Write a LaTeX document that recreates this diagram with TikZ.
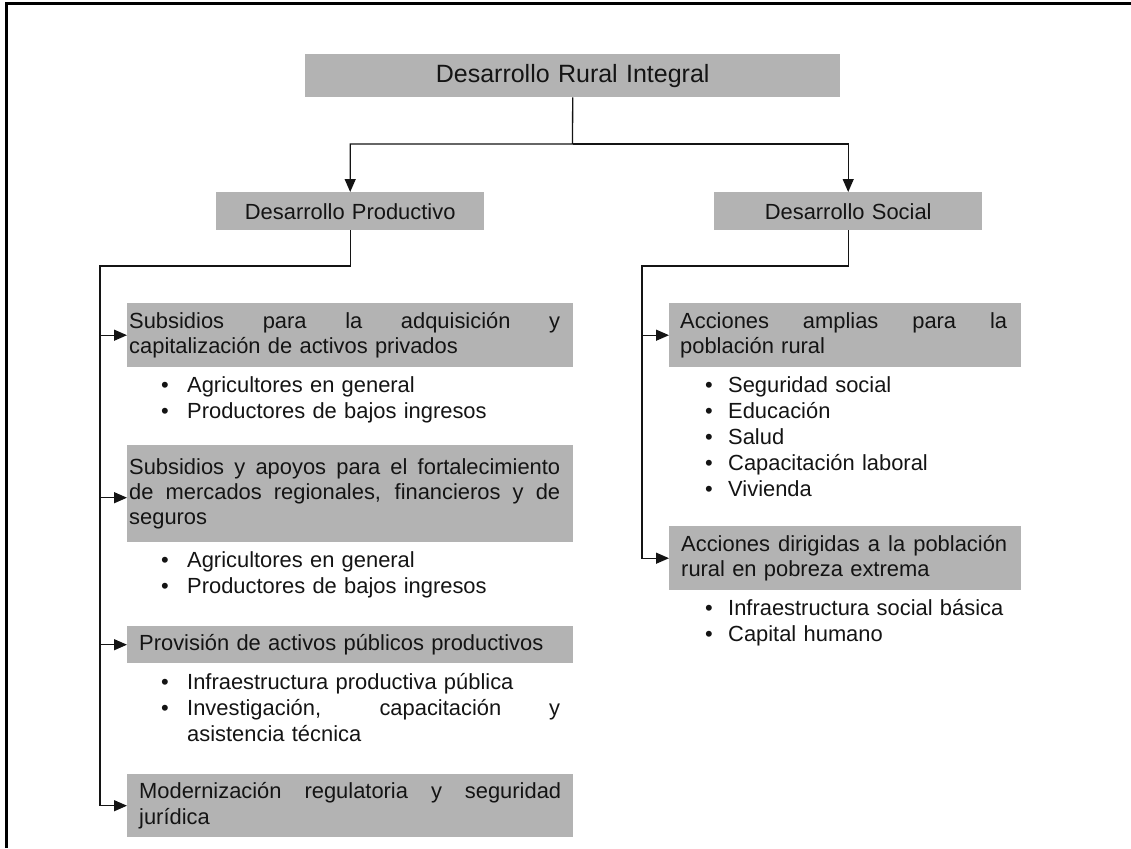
\documentclass[tikz,border=0pt]{standalone}
\usepackage{fontspec}
\setmainfont{Liberation Sans}
\usetikzlibrary{arrows.meta}
\definecolor{boxgray}{RGB}{179,179,179}
\definecolor{ink}{RGB}{20,20,20}
\newcommand{\jline}[2]{\makebox[#1][s]{\spaceskip=0pt\xspaceskip=0pt #2}}
\newcommand{\bul}[1]{\makebox[#1][l]{•}}
\begin{document}
\begin{tikzpicture}[x=1pt,y=1pt,
  box/.style={fill=boxgray, inner sep=0pt, anchor=north west, align=left,
    font=\fontsize{21.9pt}{25.3pt}\selectfont, text=ink},
  cbox/.style={box, align=center},
  list/.style={inner sep=0pt, anchor=base west, align=left, text width=440pt,
    font=\fontsize{21.9pt}{26.2pt}\selectfont, text=ink},
  conn/.style={draw=ink, line width=1.3pt},
  arr/.style={conn, -{Triangle[length=13pt,width=11pt]}}]
\useasboundingbox (0,0) rectangle (1131,-848);
\draw[line width=3pt] (6,-848) -- (6,-4) -- (1131,-4);

\node[cbox, text width=535pt, minimum height=43pt, font=\fontsize{25pt}{29pt}\selectfont] (top) at (305,-54) {Desarrollo Rural Integral};
\node[cbox, text width=268pt, minimum height=38pt] (prod) at (216,-192) {Desarrollo Productivo};
\node[cbox, text width=268pt, minimum height=38pt] (soc) at (714,-192) {Desarrollo Social};

\node[box, text width=446pt, minimum height=64pt] (l1) at (127,-303)
  {\hspace*{2pt}\jline{431pt}{Subsidios para la adquisición y}\\
   \hspace*{2pt}capitalización de activos privados};
\node[box, text width=446pt, minimum height=97pt] (l2) at (127,-445)
  {\hspace*{2pt}\jline{431pt}{Subsidios y apoyos para el fortalecimiento}\\
   \hspace*{2pt}\jline{431pt}{de mercados regionales,  financieros y de}\\
   \hspace*{2pt}seguros};
\node[box, text width=446pt, minimum height=37pt] (l3) at (127,-626)
  {\hspace*{12pt}Provisión de activos públicos productivos};
\node[box, text width=446pt, minimum height=63pt] (l4) at (127,-774)
  {\hspace*{12pt}\jline{422pt}{Modernización regulatoria y seguridad}\\
   \hspace*{12pt}jurídica};

\node[box, text width=352pt, minimum height=64pt] (r1) at (669,-303)
  {\hspace*{11pt}\jline{327pt}{Acciones amplias para la}\\
   \hspace*{11pt}población rural};
\node[box, text width=352pt, minimum height=64pt] (r2) at (669,-526)
  {\hspace*{12pt}\jline{326pt}{Acciones dirigidas a la población}\\
   \hspace*{12pt}rural en pobreza extrema};

\node[list] (bl1) at (161,-392)
  {\bul{26pt}Agricultores en general\\ \bul{26pt}Productores de bajos ingresos};
\node[list] (bl2) at (161,-567)
  {\bul{26pt}Agricultores en general\\ \bul{26pt}Productores de bajos ingresos};
\node[list] (bl3) at (161,-689)
  {\bul{26pt}Infraestructura productiva pública\\
   \bul{26pt}\jline{373pt}{Investigación, capacitación y}\\
   \hspace*{26pt}asistencia técnica};
\node[list] (br1) at (705,-392)
  {\bul{23pt}Seguridad social\\ \bul{23pt}Educación\\ \bul{23pt}Salud\\
   \bul{23pt}Capacitación laboral\\ \bul{23pt}Vivienda};
\node[list] (br2) at (705,-615)
  {\bul{23pt}Infraestructura social básica\\ \bul{23pt}Capital humano};

\coordinate (tj) at (572.5,-144);
\draw[arr] (top.south) -- (tj) -| (prod.north);
\draw[arr] (tj) -| (soc.north);

\coordinate (lj) at (100,-266);
\draw[arr] (prod.south) |- (lj) |- (l4.west);
\draw[arr] (lj |- l1.west) -- (l1.west);
\draw[arr] ([yshift=-4pt]l2.west -| lj) -- ([yshift=-4pt]l2.west);
\draw[arr] (lj |- l3.west) -- (l3.west);

\coordinate (rj) at (642,-266);
\draw[arr] (soc.south) |- (rj) |- (r2.west);
\draw[arr] (rj |- r1.west) -- (r1.west);
\end{tikzpicture}
\end{document}
